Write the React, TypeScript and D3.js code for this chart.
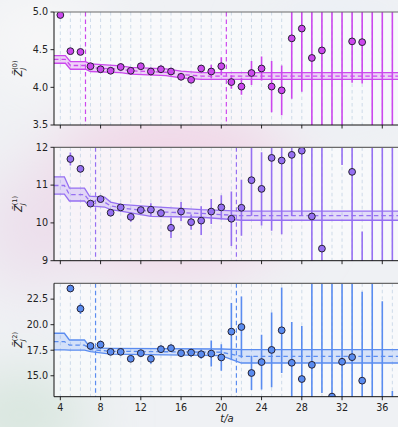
import React from "react";
import * as d3 from "d3";

// ---------- data ----------
const T_VALUES = [4, 5, 6, 7, 8, 9, 10, 11, 12, 13, 14, 15, 16, 17, 18, 19, 20, 21, 22, 23, 24, 25, 26, 27, 28, 29, 30, 31, 32, 33, 34, 35, 36, 37];

const Z0 = [4.96, 4.48, 4.47, 4.28, 4.24, 4.22, 4.27, 4.22, 4.28, 4.21, 4.24, 4.21, 4.14, 4.10, 4.25, 4.21, 4.28, 4.07, 4.01, 4.19, 4.25, 4.01, 3.96, 4.65, 4.78, 4.39, 4.49, 5.40, 3.30, 4.61, 4.60, 5.60, 3.10, 5.30];
const E0 = [0.04, 0.025, 0.025, 0.045, 0.05, 0.04, 0.05, 0.04, 0.04, 0.05, 0.05, 0.05, 0.045, 0.04, 0.04, 0.09, 0.12, 0.09, 0.11, 0.16, 0.16, 0.34, 0.33, 0.8, 0.84, 1.5, 1.6, 2.2, 1.9, 0.55, 0.55, 2.5, 2.2, 2.5];

const Z1 = [12.6, 11.69, 11.43, 10.51, 10.63, 10.27, 10.41, 10.16, 10.34, 10.35, 10.26, 9.87, 10.30, 10.02, 10.06, 10.30, 10.41, 10.11, 10.40, 11.13, 10.90, 11.72, 11.65, 11.80, 11.91, 10.17, 9.32, 13.3, 12.6, 11.35, 8.2, 13.5, 7.5, 13.8];
const E1 = [0.2, 0.17, 0.1, 0.08, 0.08, 0.1, 0.08, 0.13, 0.1, 0.17, 0.1, 0.27, 0.25, 0.2, 0.38, 0.33, 0.32, 0.72, 0.74, 0.94, 0.97, 1.93, 1.95, 1.62, 1.73, 3.0, 3.0, 0.9, 1.07, 3.0, 1.57, 5.0, 5.0, 5.0];

const Z2 = [26.0, 23.54, 21.56, 17.92, 18.05, 17.34, 17.34, 16.66, 17.21, 16.66, 17.60, 17.70, 17.21, 17.27, 17.11, 17.17, 16.79, 19.32, 19.77, 15.27, 16.34, 17.53, 19.45, 16.27, 14.68, 16.07, 25.0, 12.96, 16.37, 16.82, 14.52, 26.0, 11.0, 6.0];
const E2 = [0.5, 0.2, 0.52, 0.2, 0.39, 0.25, 0.25, 0.3, 0.3, 0.49, 0.36, 0.37, 0.35, 0.4, 0.45, 1.27, 1.3, 2.8, 3.0, 1.67, 2.68, 3.65, 4.19, 4.0, 5.2, 9.0, 11.7, 12.0, 9.0, 9.0, 8.7, 14.0, 11.3, 7.5];

// fit band (t knots, central value, half width)
const BAND_T0 = [3.37, 4.5, 5.0, 6.5, 7.0, 10.0, 11.0, 14.5, 16.0, 18.0, 37.8];
const BAND_C0 = [4.37, 4.37, 4.29, 4.29, 4.26, 4.24, 4.22, 4.20, 4.17, 4.15, 4.15];
const BAND_H0 = [0.05, 0.05, 0.05, 0.05, 0.05, 0.045, 0.045, 0.045, 0.045, 0.045, 0.045];

const BAND_T1 = [3.37, 4.4, 4.9, 6.4, 6.9, 8.4, 9.0, 10.0, 13.0, 18.0, 22.0, 37.8];
const BAND_C1 = [10.99, 10.99, 10.75, 10.75, 10.58, 10.55, 10.45, 10.40, 10.30, 10.25, 10.19, 10.19];
const BAND_H1 = [0.23, 0.23, 0.17, 0.17, 0.13, 0.13, 0.1, 0.09, 0.13, 0.1, 0.12, 0.12];

const BAND_T2 = [3.37, 4.4, 4.9, 6.4, 7.0, 9.0, 20.0, 22.0, 37.8];
const BAND_C2 = [18.35, 18.35, 18.0, 18.0, 17.55, 17.4, 17.3, 16.9, 16.9];
const BAND_H2 = [0.81, 0.81, 0.5, 0.5, 0.18, 0.28, 0.32, 0.65, 0.65];

const FIT0 = [6.5, 20.5];
const FIT1 = [7.5, 21.5];
const FIT2 = [7.5, 21.5];

const Y_TICKS0 = [3.5, 4.0, 4.5, 5.0];
const Y_TICKS1 = [9, 10, 11, 12];
const Y_TICKS2 = [15.0, 17.5, 20.0, 22.5];
const X_TICKS = [4, 8, 12, 16, 20, 24, 28, 32, 36];
const GRID_T = [4, 5, 6, 7, 8, 9, 10, 11, 12, 13, 14, 15, 16, 17, 18, 19, 20, 21, 22, 23, 24, 25, 26, 27, 28, 29, 30, 31, 32, 33, 34, 35, 36, 37];

// ---------- layout ----------
const W = 398;
const H = 427;
const LEFT = 54;
const X_DOMAIN = [3.37, 37.8];
const FONT = "DejaVu Sans, sans-serif";

const x = d3.scaleLinear().domain(X_DOMAIN).range([LEFT, 400.4]);

type Panel = {
  id: string;
  top: number;
  bottom: number;
  domain: [number, number];
  ticks: number[];
  fmt: string;
  z: number[];
  e: number[];
  bt: number[];
  bc: number[];
  bh: number[];
  fit: number[];
  color: string;
  sup: string;
  xlabels: boolean;
};

const PANELS: Panel[] = [
  { id: "p0", top: 12, bottom: 125, domain: [3.5, 5.0], ticks: Y_TICKS0, fmt: ".1f", z: Z0, e: E0, bt: BAND_T0, bc: BAND_C0, bh: BAND_H0, fit: FIT0, color: "#cc48ee", sup: "(0)", xlabels: false },
  { id: "p1", top: 147.3, bottom: 260.7, domain: [9, 12], ticks: Y_TICKS1, fmt: "d", z: Z1, e: E1, bt: BAND_T1, bc: BAND_C1, bh: BAND_H1, fit: FIT1, color: "#9670f2", sup: "(1)", xlabels: false },
  { id: "p2", top: 283.3, bottom: 396.7, domain: [12.95, 24.05], ticks: Y_TICKS2, fmt: ".1f", z: Z2, e: E2, bt: BAND_T2, bc: BAND_C2, bh: BAND_H2, fit: FIT2, color: "#5a8cf0", sup: "(2)", xlabels: true },
];

function PanelView({ p }: { p: Panel }) {
  const y = d3.scaleLinear().domain(p.domain).range([p.bottom, p.top]);
  const right = x.range()[1];
  const idx = p.bt.map((_, i) => i);
  const area = d3
    .area<number>()
    .x((i) => x(p.bt[i]))
    .y0((i) => y(p.bc[i] - p.bh[i]))
    .y1((i) => y(p.bc[i] + p.bh[i]));
  const upper = d3.line<number>().x((i) => x(p.bt[i])).y((i) => y(p.bc[i] + p.bh[i]));
  const lower = d3.line<number>().x((i) => x(p.bt[i])).y((i) => y(p.bc[i] - p.bh[i]));
  const center = d3.line<number>().x((i) => x(p.bt[i])).y((i) => y(p.bc[i]));
  const fmt = d3.format(p.fmt);
  const clipId = "clip-" + p.id;
  const mid = (p.top + p.bottom) / 2;

  return (
    <g>
      <defs>
        <clipPath id={clipId}>
          <rect x={LEFT} y={p.top} width={right - LEFT} height={p.bottom - p.top} />
        </clipPath>
      </defs>
      <rect x={LEFT} y={p.top} width={right - LEFT} height={p.bottom - p.top} fill="#fbfcfe" fillOpacity={0.72} />
      <g clipPath={`url(#${clipId})`}>
        {GRID_T.map((t) => (
          <line key={"g" + t} x1={x(t)} x2={x(t)} y1={p.top} y2={p.bottom} stroke="#c3d3e4" strokeWidth={0.8} strokeDasharray="3.5,3" />
        ))}
        {p.fit.map((t) => (
          <line key={"f" + t} x1={x(t)} x2={x(t)} y1={p.top} y2={p.bottom} stroke={p.color} strokeWidth={1.2} strokeDasharray="4.5,3" />
        ))}
        <path d={area(idx) || ""} fill={p.color} fillOpacity={0.22} />
        <path d={upper(idx) || ""} fill="none" stroke={p.color} strokeWidth={1.3} />
        <path d={lower(idx) || ""} fill="none" stroke={p.color} strokeWidth={1.3} />
        <path d={center(idx) || ""} fill="none" stroke={p.color} strokeWidth={1.3} strokeDasharray="4.5,3" />
        {T_VALUES.map((t, i) => (
          <line key={"e" + t} x1={x(t)} x2={x(t)} y1={y(p.z[i] - p.e[i])} y2={y(p.z[i] + p.e[i])} stroke={p.color} strokeWidth={1.6} />
        ))}
        {T_VALUES.map((t, i) => (
          <circle key={"c" + t} cx={x(t)} cy={y(p.z[i])} r={3.4} fill={p.color} stroke="#262233" strokeWidth={1} />
        ))}
      </g>
      {/* spines */}
      <line x1={LEFT} x2={right} y1={p.top} y2={p.top} stroke="#6a6a6a" strokeWidth={1.2} />
      <line x1={LEFT} x2={LEFT} y1={p.top} y2={p.bottom} stroke="#111" strokeWidth={1} />
      <line x1={LEFT} x2={right} y1={p.bottom} y2={p.bottom} stroke="#111" strokeWidth={1} />
      {/* y ticks */}
      {p.ticks.map((v) => (
        <g key={"yt" + v}>
          <line x1={LEFT - 3.5} x2={LEFT} y1={y(v)} y2={y(v)} stroke="#111" strokeWidth={0.9} />
          <text x={LEFT - 6} y={y(v)} dy="0.35em" textAnchor="end" fontSize={9.6} fill="#222" fontFamily={FONT}>
            {fmt(v)}
          </text>
        </g>
      ))}
      {/* x ticks */}
      {X_TICKS.map((t) => (
        <g key={"xt" + t}>
          <line x1={x(t)} x2={x(t)} y1={p.bottom} y2={p.bottom + 3.5} stroke="#111" strokeWidth={0.9} />
          {p.xlabels && (
            <text x={x(t)} y={p.bottom + 14} textAnchor="middle" fontSize={9.6} fill="#222" fontFamily={FONT}>
              {t}
            </text>
          )}
        </g>
      ))}
      {/* y label */}
      <text transform={`translate(22,${mid + 8}) rotate(-90)`} fontSize={10} fill="#222" fontFamily={FONT}>
        <tspan fontStyle="italic">{"Z\u0303"}</tspan>
        <tspan fontStyle="italic" fontSize={7} dy={2.6}>J</tspan>
        <tspan fontSize={6.5} dx={-2.2} dy={-7.4}>{p.sup}</tspan>
      </text>
    </g>
  );
}

export default function App() {
  return (
    <div style={{ position: "absolute", left: 0, top: 0, width: W, height: H, overflow: "hidden" }}>
      <svg width={W} height={H} style={{ display: "block" }}>
        <defs>
          <filter id="blur" x="-50%" y="-50%" width="200%" height="200%">
            <feGaussianBlur stdDeviation="30" />
          </filter>
        </defs>
        <rect x={0} y={0} width={W} height={H} fill="#eff1f4" />
        <g filter="url(#blur)">
          <ellipse cx={170} cy={190} rx={130} ry={90} fill="#f1d8e8" />
          <ellipse cx={30} cy={230} rx={50} ry={60} fill="#ecdfec" />
          <ellipse cx={20} cy={415} rx={70} ry={40} fill="#d6e5dc" />
          <ellipse cx={340} cy={60} rx={70} ry={50} fill="#e9eef6" />
          <ellipse cx={40} cy={40} rx={60} ry={50} fill="#f7f7f8" />
        </g>
        {PANELS.map((p) => (
          <PanelView key={p.id} p={p} />
        ))}
        <text x={227} y={422} textAnchor="middle" fontSize={10} fontStyle="italic" fill="#222" fontFamily={FONT}>
          t/a
        </text>
      </svg>
    </div>
  );
}
